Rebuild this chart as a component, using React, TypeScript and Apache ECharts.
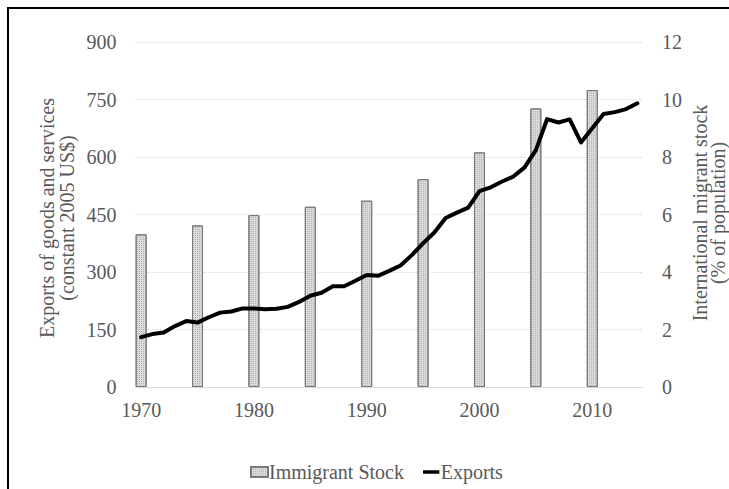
import React, { useEffect, useRef } from 'react';
import * as echarts from 'echarts';

const years = [
  '1970', '1971', '1972', '1973', '1974', '1975', '1976', '1977', '1978', '1979',
  '1980', '1981', '1982', '1983', '1984', '1985', '1986', '1987', '1988', '1989',
  '1990', '1991', '1992', '1993', '1994', '1995', '1996', '1997', '1998', '1999',
  '2000', '2001', '2002', '2003', '2004', '2005', '2006', '2007', '2008', '2009',
  '2010', '2011', '2012', '2013', '2014',
];

const exportsValues = [
  130, 138, 142, 159, 172, 168, 182, 194, 197, 205,
  205, 203, 204, 209, 222, 238, 246, 263, 263, 277,
  292, 290, 303, 317, 344, 375, 403, 441, 455, 468,
  511, 521, 536, 549, 573, 618, 699, 690, 698, 638,
  675, 712, 717, 725, 740,
];

const stockYears = ['1970', '1975', '1980', '1985', '1990', '1995', '2000', '2005', '2010'];
const stockValues = [5.31, 5.62, 5.98, 6.27, 6.48, 7.23, 8.16, 9.69, 10.33];

const leftAxis = { min: 0, max: 900, interval: 150 };
const rightAxis = { min: 0, max: 12, interval: 2 };

const FONT = 'Liberation Serif, Times New Roman, serif';
const TEXT = '#595959';

export default function App() {
  const ref = useRef<HTMLDivElement>(null);
  useEffect(() => {
    const chart = echarts.init(ref.current!, null, { renderer: 'svg' });
    const stockData = years.map((y) => {
      const i = stockYears.indexOf(y);
      return i >= 0 ? stockValues[i] : '-';
    });
    chart.setOption({
      animation: false,
      backgroundColor: '#fff',
      textStyle: { fontFamily: FONT },
      grid: { left: 126.5, right: 86, top: 33, bottom: 102 },
      legend: {
        left: 236,
        top: 448,
        itemWidth: 17,
        itemHeight: 10,
        itemGap: 19,
        textStyle: { fontFamily: FONT, fontSize: 20, color: TEXT, padding: [0, 0, 0, -4] },
        data: [
          { name: 'Immigrant Stock', icon: 'rect' },
          {
            name: 'Exports',
            icon: 'path://M0,0h0.01v0.01h-0.01z M0,3.5h18v4h-18z M0,10.99h0.01v0.01h-0.01z',
            itemStyle: { color: '#000' },
          },
        ],
      },
      xAxis: {
        type: 'category',
        data: years,
        boundaryGap: true,
        axisTick: { show: false },
        axisLine: { lineStyle: { color: '#d9d9d9', width: 1 } },
        axisLabel: {
          interval: 9,
          margin: 13,
          fontFamily: FONT,
          fontSize: 20,
          color: TEXT,
        },
      },
      yAxis: [
        {
          type: 'value',
          ...leftAxis,
          axisLine: { show: false },
          axisTick: { show: false },
          axisLabel: { margin: 19, fontFamily: FONT, fontSize: 20, color: TEXT },
          splitLine: { lineStyle: { color: '#d9d9d9', type: [2, 2], width: 1 } },
        },
        {
          type: 'value',
          ...rightAxis,
          position: 'right',
          axisLine: { show: false },
          axisTick: { show: false },
          axisLabel: { margin: 19, fontFamily: FONT, fontSize: 20, color: TEXT },
          splitLine: { show: false },
        },
      ],
      graphic: [
        {
          type: 'text',
          x: 48,
          y: 209,
          rotation: Math.PI / 2,
          style: {
            text: 'Exports of goods and services\n(constant 2005 US$)',
            align: 'center',
            verticalAlign: 'middle',
            fontFamily: FONT,
            fontSize: 20,
            lineHeight: 20,
            fill: TEXT,
          },
        },
        {
          type: 'text',
          x: 700,
          y: 204,
          rotation: Math.PI / 2,
          style: {
            text: 'International migrant stock\n(% of population)',
            align: 'center',
            verticalAlign: 'middle',
            fontFamily: FONT,
            fontSize: 20,
            lineHeight: 18,
            fill: TEXT,
          },
        },
      ],
      series: [
        {
          name: 'Immigrant Stock',
          type: 'bar',
          yAxisIndex: 1,
          barWidth: 11,
          data: stockData,
          itemStyle: {
            color: '#dadada',
            borderColor: '#7a7a7a',
            borderWidth: 1,
            decal: {
              symbol: 'rect',
              symbolSize: 1,
              dashArrayX: [1, 1],
              dashArrayY: [1, 1],
              rotation: 0,
              color: 'rgba(110,110,110,0.35)',
            },
          },
          z: 1,
        },
        {
          name: 'Exports',
          type: 'line',
          yAxisIndex: 0,
          data: exportsValues,
          symbol: 'none',
          lineStyle: { color: '#000', width: 4, join: 'round', cap: 'round' },
          itemStyle: { color: '#000' },
          z: 3,
        },
      ],
    });
    return () => chart.dispose();
  }, []);
  return (
    <div
      style={{
        position: 'fixed',
        left: 7,
        top: 7,
        width: 722,
        height: 482,
        borderTop: '2px solid #000',
        borderLeft: '2px solid #000',
        boxSizing: 'border-box',
        background: '#fff',
      }}
    >
      <div ref={ref} style={{ width: 720, height: 480 }} />
    </div>
  );
}
